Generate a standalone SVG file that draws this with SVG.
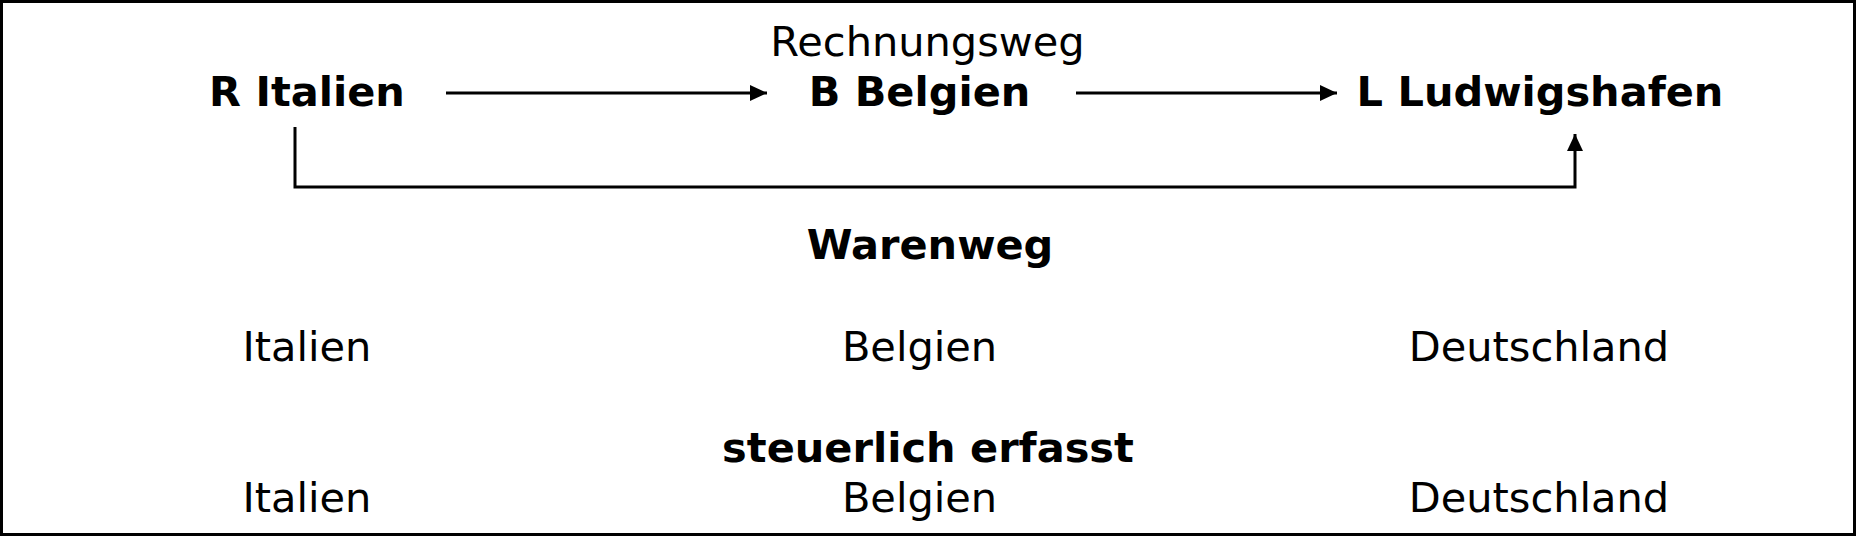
<svg xmlns="http://www.w3.org/2000/svg" width="1856" height="536" viewBox="0 0 1856 536">
<style>
text{font-family:"DejaVu Sans","Verdana",sans-serif;fill:#000;text-anchor:middle}
.b{font-weight:bold;font-size:41.5px}
.r{font-size:41.5px}
.ln{fill:none;stroke:#000;stroke-width:3}
</style>
<defs>
<marker id="ah" markerUnits="userSpaceOnUse" markerWidth="18" markerHeight="16" refX="17" refY="8" orient="auto">
<path d="M0,0 L17,8 L0,16 z" fill="#000"/>
</marker>
</defs>
<rect x="1.5" y="1.5" width="1853" height="533" fill="#fff" stroke="#000" stroke-width="3"/>
<g id="node-r-italien"><text class="b" x="307" y="106">R Italien</text></g>
<g id="node-rechnungsweg"><text class="r" x="927.5" y="56">Rechnungsweg</text></g>
<g id="node-b-belgien"><text class="b" x="919.5" y="106">B Belgien</text></g>
<g id="node-l-ludwigshafen"><text class="b" x="1540" y="106">L Ludwigshafen</text></g>
<g id="node-warenweg"><text class="b" x="930" y="259">Warenweg</text></g>
<g id="row1">
<text class="r" x="307" y="361">Italien</text>
<text class="r" x="919.5" y="361">Belgien</text>
<text class="r" x="1539" y="361">Deutschland</text>
</g>
<g id="node-steuerlich"><text class="b" x="928" y="462">steuerlich erfasst</text></g>
<g id="row2">
<text class="r" x="307" y="512">Italien</text>
<text class="r" x="919.5" y="512">Belgien</text>
<text class="r" x="1539" y="512">Deutschland</text>
</g>
<g id="connectors">
<line class="ln" x1="446" y1="93" x2="767" y2="93" marker-end="url(#ah)"/>
<line class="ln" x1="1076" y1="93" x2="1337" y2="93" marker-end="url(#ah)"/>
<polyline class="ln" points="295,127 295,187 1575,187 1575,134" marker-end="url(#ah)"/>
</g>
</svg>
